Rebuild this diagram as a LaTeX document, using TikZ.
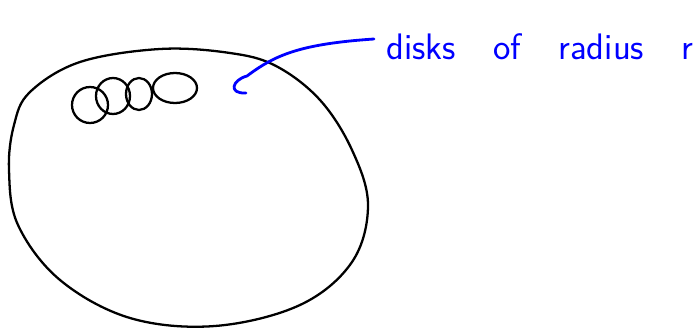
\documentclass[tikz,border=0pt]{standalone}
\usepackage{tikz}
\usetikzlibrary{arrows.meta, positioning}

\begin{document}
\begin{tikzpicture}[
  x=0.02cm, y=-0.02cm,
  sketch/.style={draw=black, line width=1.3pt, line cap=round, line join=round},
  disk/.style={sketch},
  note/.style={draw=blue, line width=1.6pt, line cap=round, line join=round},
  notetext/.style={text=blue, font=\sffamily\fontsize{21}{24}\selectfont, inner sep=0pt, anchor=west}
]
\useasboundingbox (0,0) rectangle (696,328);

% region
\draw[sketch] plot[smooth cycle, tension=0.6] coordinates {
  (30,92) (80,62) (160,49) (230,53) (276,66) (320,100) (352,150)
  (368,205) (352,262) (300,305) (215,326) (130,318) (60,280)
  (18,225) (9,170) (14,125)};

% small disks
\draw[disk] (90,105) ellipse (18 and 18);
\draw[disk] (113,96) ellipse (17 and 18);
\draw[disk] (139,94) ellipse (13 and 16);
\draw[disk] (175,88) ellipse (22 and 15);

% label
\node[notetext] (label) at (386,47) {disks\hspace{0.7em} of\hspace{0.7em} radius\hspace{0.7em} r};
\coordinate (tip) at (247,76);
\draw[note] (label.west) ++(-12,-8) coordinate (start)
  (start) .. controls (300,44) and (275,55) .. (tip)
  .. controls (232,80) and (228,94) .. (246,93);

\end{tikzpicture}
\end{document}
